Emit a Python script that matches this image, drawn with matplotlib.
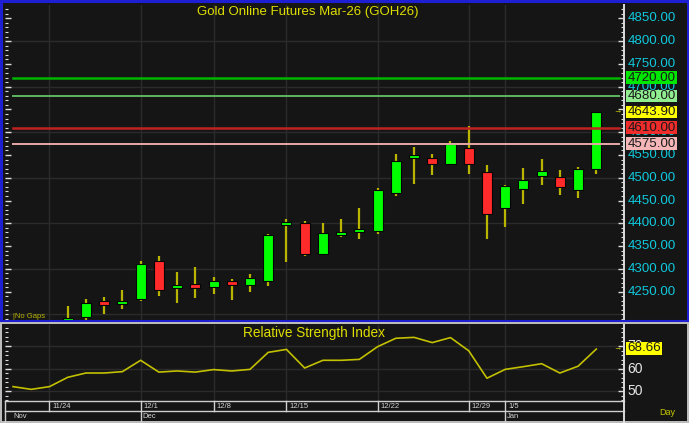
import matplotlib
matplotlib.use("Agg")
import matplotlib.pyplot as plt
from matplotlib.patches import Rectangle
from matplotlib.lines import Line2D
from matplotlib.transforms import blended_transform_factory, offset_copy

plt.rcParams['font.family'] = ['Liberation Sans', 'DejaVu Sans']

# ---------------- data ----------------
TITLE = "Gold Online Futures Mar-26 (GOH26)"
RSI_TITLE = "Relative Strength Index"

bar_index = list(range(30))
opens  = [4187, 4194, 4230, 4222, 4233, 4317, 4259, 4267, 4261, 4274,
          4265, 4273, 4396, 4400, 4333, 4375, 4382, 4384, 4466, 4543,
          4544, 4530, 4566, 4513, 4433, 4475, 4505, 4502, 4473, 4519]
highs  = [4219, 4233, 4238, 4254, 4317, 4329, 4294, 4305, 4282, 4277,
          4288, 4377, 4410, 4406, 4400, 4409, 4433, 4477, 4552, 4568,
          4552, 4581, 4614, 4528, 4484, 4522, 4541, 4516, 4524, 4644]
lows   = [4180, 4188, 4200, 4212, 4230, 4241, 4226, 4236, 4246, 4232,
          4250, 4263, 4315, 4329, 4331, 4371, 4365, 4377, 4460, 4486,
          4506, 4530, 4508, 4365, 4393, 4442, 4484, 4462, 4456, 4509]
closes = [4193, 4225, 4221, 4230, 4311, 4254, 4265, 4258, 4273.5, 4265,
          4279, 4374.5, 4402, 4332, 4378, 4380, 4387, 4473, 4537, 4550,
          4531, 4573.5, 4530, 4421, 4482, 4496, 4514, 4479, 4520, 4643.9]

rsi_index = list(range(-3, 30))
rsi_values = [52.1, 50.9, 52.1, 56.2, 58.1, 58.1, 58.7, 63.7, 58.5, 59.0,
              58.5, 59.6, 59.0, 59.7, 67.2, 68.5, 60.3, 63.7, 63.7, 64.1,
              69.7, 73.4, 73.8, 71.5, 73.7, 67.9, 55.8, 59.7, 60.9, 62.2,
              58.1, 61.1, 68.66]

level_values = [4720.00, 4680.00, 4610.00, 4575.00]
level_line_colors = ['#00b400', '#5cb85c', '#c02222', '#e8a8a8']
level_line_widths = [1.8, 1.4, 1.8, 1.4]
level_box_colors = ['#00e800', '#90ee90', '#ee2c2c', '#f4b6b6']
last_price = 4643.90
rsi_last = 68.66

price_ticks = [4250 + 50 * i for i in range(13)]
hidden_price_labels = [4650]
price_grid = [4200 + 100 * i for i in range(7)]
rsi_ticks = [50, 60, 70]

week_labels = ['11/24', '12/1', '12/8', '12/15', '12/22', '12/29', '1/5']
week_index = [-1, 4, 8, 12, 17, 22, 24]
month_labels = ['Nov', 'Dec', 'Jan']
month_index = [None, 4, 24]

# ---------------- style ----------------
BG = '#151515'
GRID = '#2b2b2b'
WHITE = '#dcdcdc'
CYAN = '#10c8dc'
YEL = '#dede00'
OLIVE = '#c2c000'
BLUE = '#1e1ed2'
GREEN = '#00ff00'
RED = '#ff2a2a'

W, H = 689, 423
fig = plt.figure(figsize=(W / 100, H / 100), dpi=100, facecolor=BG)

def fx(px):
    return px / W

def fy(py):
    return 1 - py / H

LPX, RPX = 5, 624
ax = fig.add_axes([fx(LPX), fy(320), (RPX - LPX) / W, (320 - 5) / H], facecolor=BG)
rax = fig.add_axes([fx(LPX), fy(401), (RPX - LPX) / W, (401 - 325) / H], facecolor=BG)

x0 = (LPX - 67.7) / 18.228
x1 = (RPX - 67.7) / 18.228
for a in (ax, rax):
    a.set_xlim(x0, x1)
    for s in ('top', 'bottom', 'left'):
        a.spines[s].set_visible(False)
    a.spines['right'].set_color(WHITE)
    a.spines['right'].set_linewidth(1.4)
    a.tick_params(axis='x', which='both', bottom=False, labelbottom=False)
    a.tick_params(axis='y', which='both', direction='in', left=True, right=True,
                  labelleft=False, labelright=False, color=WHITE)
    a.tick_params(axis='y', which='major', length=4, width=1)
    a.tick_params(axis='y', which='minor', length=2.2, width=0.8)
    for wi in week_index:
        a.axvline(wi, color=GRID, lw=1, zorder=0)

ax.set_ylim(4187.9, 4879.2)
ax.set_yticks(price_ticks)
ax.set_yticks(range(4190, 4880, 10), minor=True)
for g in price_grid:
    ax.axhline(g, color=GRID, lw=1, zorder=0)

# candles
body_w = 0.55
ax.vlines(bar_index, lows, highs, color='#b8b400', lw=1.6, zorder=2)
for i, o, c in zip(bar_index, opens, closes):
    col = GREEN if c >= o else RED
    ax.add_patch(Rectangle((i - body_w / 2, min(o, c)), body_w, abs(c - o),
                           facecolor=col, edgecolor='#050505', lw=0.8, zorder=3))

# level lines
xmin_f = (13 - LPX) / (RPX - LPX)
xmax_f = (619 - LPX) / (RPX - LPX)
for v, c, lw in zip(level_values, level_line_colors, level_line_widths):
    ax.axhline(v, xmin=xmin_f, xmax=xmax_f, color=c, lw=lw, zorder=4)

# price labels on right
tr = blended_transform_factory(ax.transAxes, ax.transData)
lab_x = (627.5 - LPX) / (RPX - LPX)
box_x = (626 - LPX) / (RPX - LPX)
box_w = 51 / (RPX - LPX)
ppu = 315 / (4879.2 - 4187.9)
box_h = 12.5 / ppu
for t in price_ticks:
    if t in hidden_price_labels:
        continue
    ax.text(lab_x, t, f"{t:.2f}", transform=tr, color=CYAN, fontsize=9.6,
            ha='left', va='center', zorder=4, clip_on=False)
boxes = list(zip(level_values, level_box_colors)) + [(last_price, '#ffff00')]
for v, bc in boxes:
    ax.add_patch(Rectangle((box_x, v - box_h / 2), box_w, box_h, transform=tr,
                           facecolor=bc, edgecolor='none', zorder=6, clip_on=False))
    ax.text(lab_x, v, f"{v:.2f}", transform=tr, color='#1a1a1a', fontsize=9.6,
            ha='left', va='center', zorder=7, clip_on=False)
ax.text((617 - LPX) / (RPX - LPX), last_price, "→", transform=tr, color=YEL,
        fontsize=6, ha='center', va='center', zorder=7, clip_on=False)

# RSI panel
rax.set_ylim(45.77, 79.25)
rax.set_yticks(rsi_ticks)
rax.set_yticks(range(46, 80, 2), minor=True)
for g in rsi_ticks:
    rax.axhline(g, color=GRID, lw=1, zorder=0)
rax.plot(rsi_index, rsi_values, color=OLIVE, lw=1.2, zorder=3)
rtr = blended_transform_factory(rax.transAxes, rax.transData)
for t in rsi_ticks:
    rax.text(lab_x, t, f"{t}", transform=rtr, color='#e6e6e6', fontsize=10,
             ha='left', va='center', zorder=4, clip_on=False)
rbox_h = 12.5 / (76 / (79.25 - 45.77))
rax.add_patch(Rectangle((box_x, rsi_last - rbox_h / 2 + 0.3), 36 / (RPX - LPX), rbox_h,
                        transform=rtr, facecolor='#ffff00', edgecolor='none',
                        zorder=6, clip_on=False))
rax.text(lab_x, rsi_last + 0.3, f"{rsi_last:.2f}", transform=rtr, color='#1a1a1a',
         fontsize=9.6, ha='left', va='center', zorder=7, clip_on=False)
rax.text((617 - LPX) / (RPX - LPX), rsi_last, "→", transform=rtr, color=YEL,
         fontsize=6, ha='center', va='center', zorder=7, clip_on=False)

# titles
fig.text(fx(307.5), fy(12), TITLE, color=YEL, fontsize=9.5, ha='center', va='center')
fig.text(fx(314), fy(333), RSI_TITLE, color=YEL, fontsize=9.8, ha='center', va='center')
fig.text(fx(13), fy(316.5), "|No Gaps", color='#b8b400', fontsize=5.5,
         ha='left', va='center')

# frames
fig.add_artist(Rectangle((fx(1.2), fy(320.5)), (687.6 - 1.2) / W, (320.5 - 1.2) / H,
                         transform=fig.transFigure, fill=False, edgecolor=BLUE, lw=2.2))
fig.add_artist(Rectangle((fx(1.2), fy(422.3)), (687.6 - 1.2) / W, (422.3 - 323) / H,
                         transform=fig.transFigure, fill=False, edgecolor='#c0c0c0', lw=1.4))

# date strip
dtr = blended_transform_factory(rax.transData, fig.transFigure)
line_kw = dict(color='#cfcfcf', lw=1.0)
fig.add_artist(Line2D([fx(LPX), fx(RPX)], [fy(401), fy(401)], **line_kw))
fig.add_artist(Line2D([fx(LPX), fx(RPX)], [fy(411), fy(411)], **line_kw))
fig.add_artist(Line2D([fx(LPX), fx(LPX)], [fy(401), fy(422)], **line_kw))
fig.add_artist(Line2D([fx(RPX), fx(RPX)], [fy(401), fy(423)], color=WHITE, lw=1.4))
month_starts = [m for m in month_index if m is not None]
lab_tr = offset_copy(dtr, fig=fig, x=3, y=0, units='dots')
mon_tr = offset_copy(dtr, fig=fig, x=2, y=0, units='dots')
for lab, wi in zip(week_labels, week_index):
    full = wi in month_starts
    fig.add_artist(Line2D([wi, wi], [fy(401), fy(422 if full else 411)],
                          transform=dtr, **line_kw))
    fig.text(wi, fy(406.5), lab, transform=lab_tr,
             color='#d4d4d4', fontsize=5.5, ha='left', va='center')
for lab, mi in zip(month_labels, month_index):
    if mi is None:
        fig.text(fx(13), fy(416.5), lab, color='#d4d4d4', fontsize=5.5,
                 ha='left', va='center')
    else:
        fig.text(mi, fy(416.5), lab, transform=mon_tr,
                 color='#d4d4d4', fontsize=5.5, ha='left', va='center')
fig.text(fx(667), fy(412.5), "Day", color='#c8c800', fontsize=6.5, ha='center', va='center')

fig.savefig('out.png', dpi=100, facecolor=BG)
